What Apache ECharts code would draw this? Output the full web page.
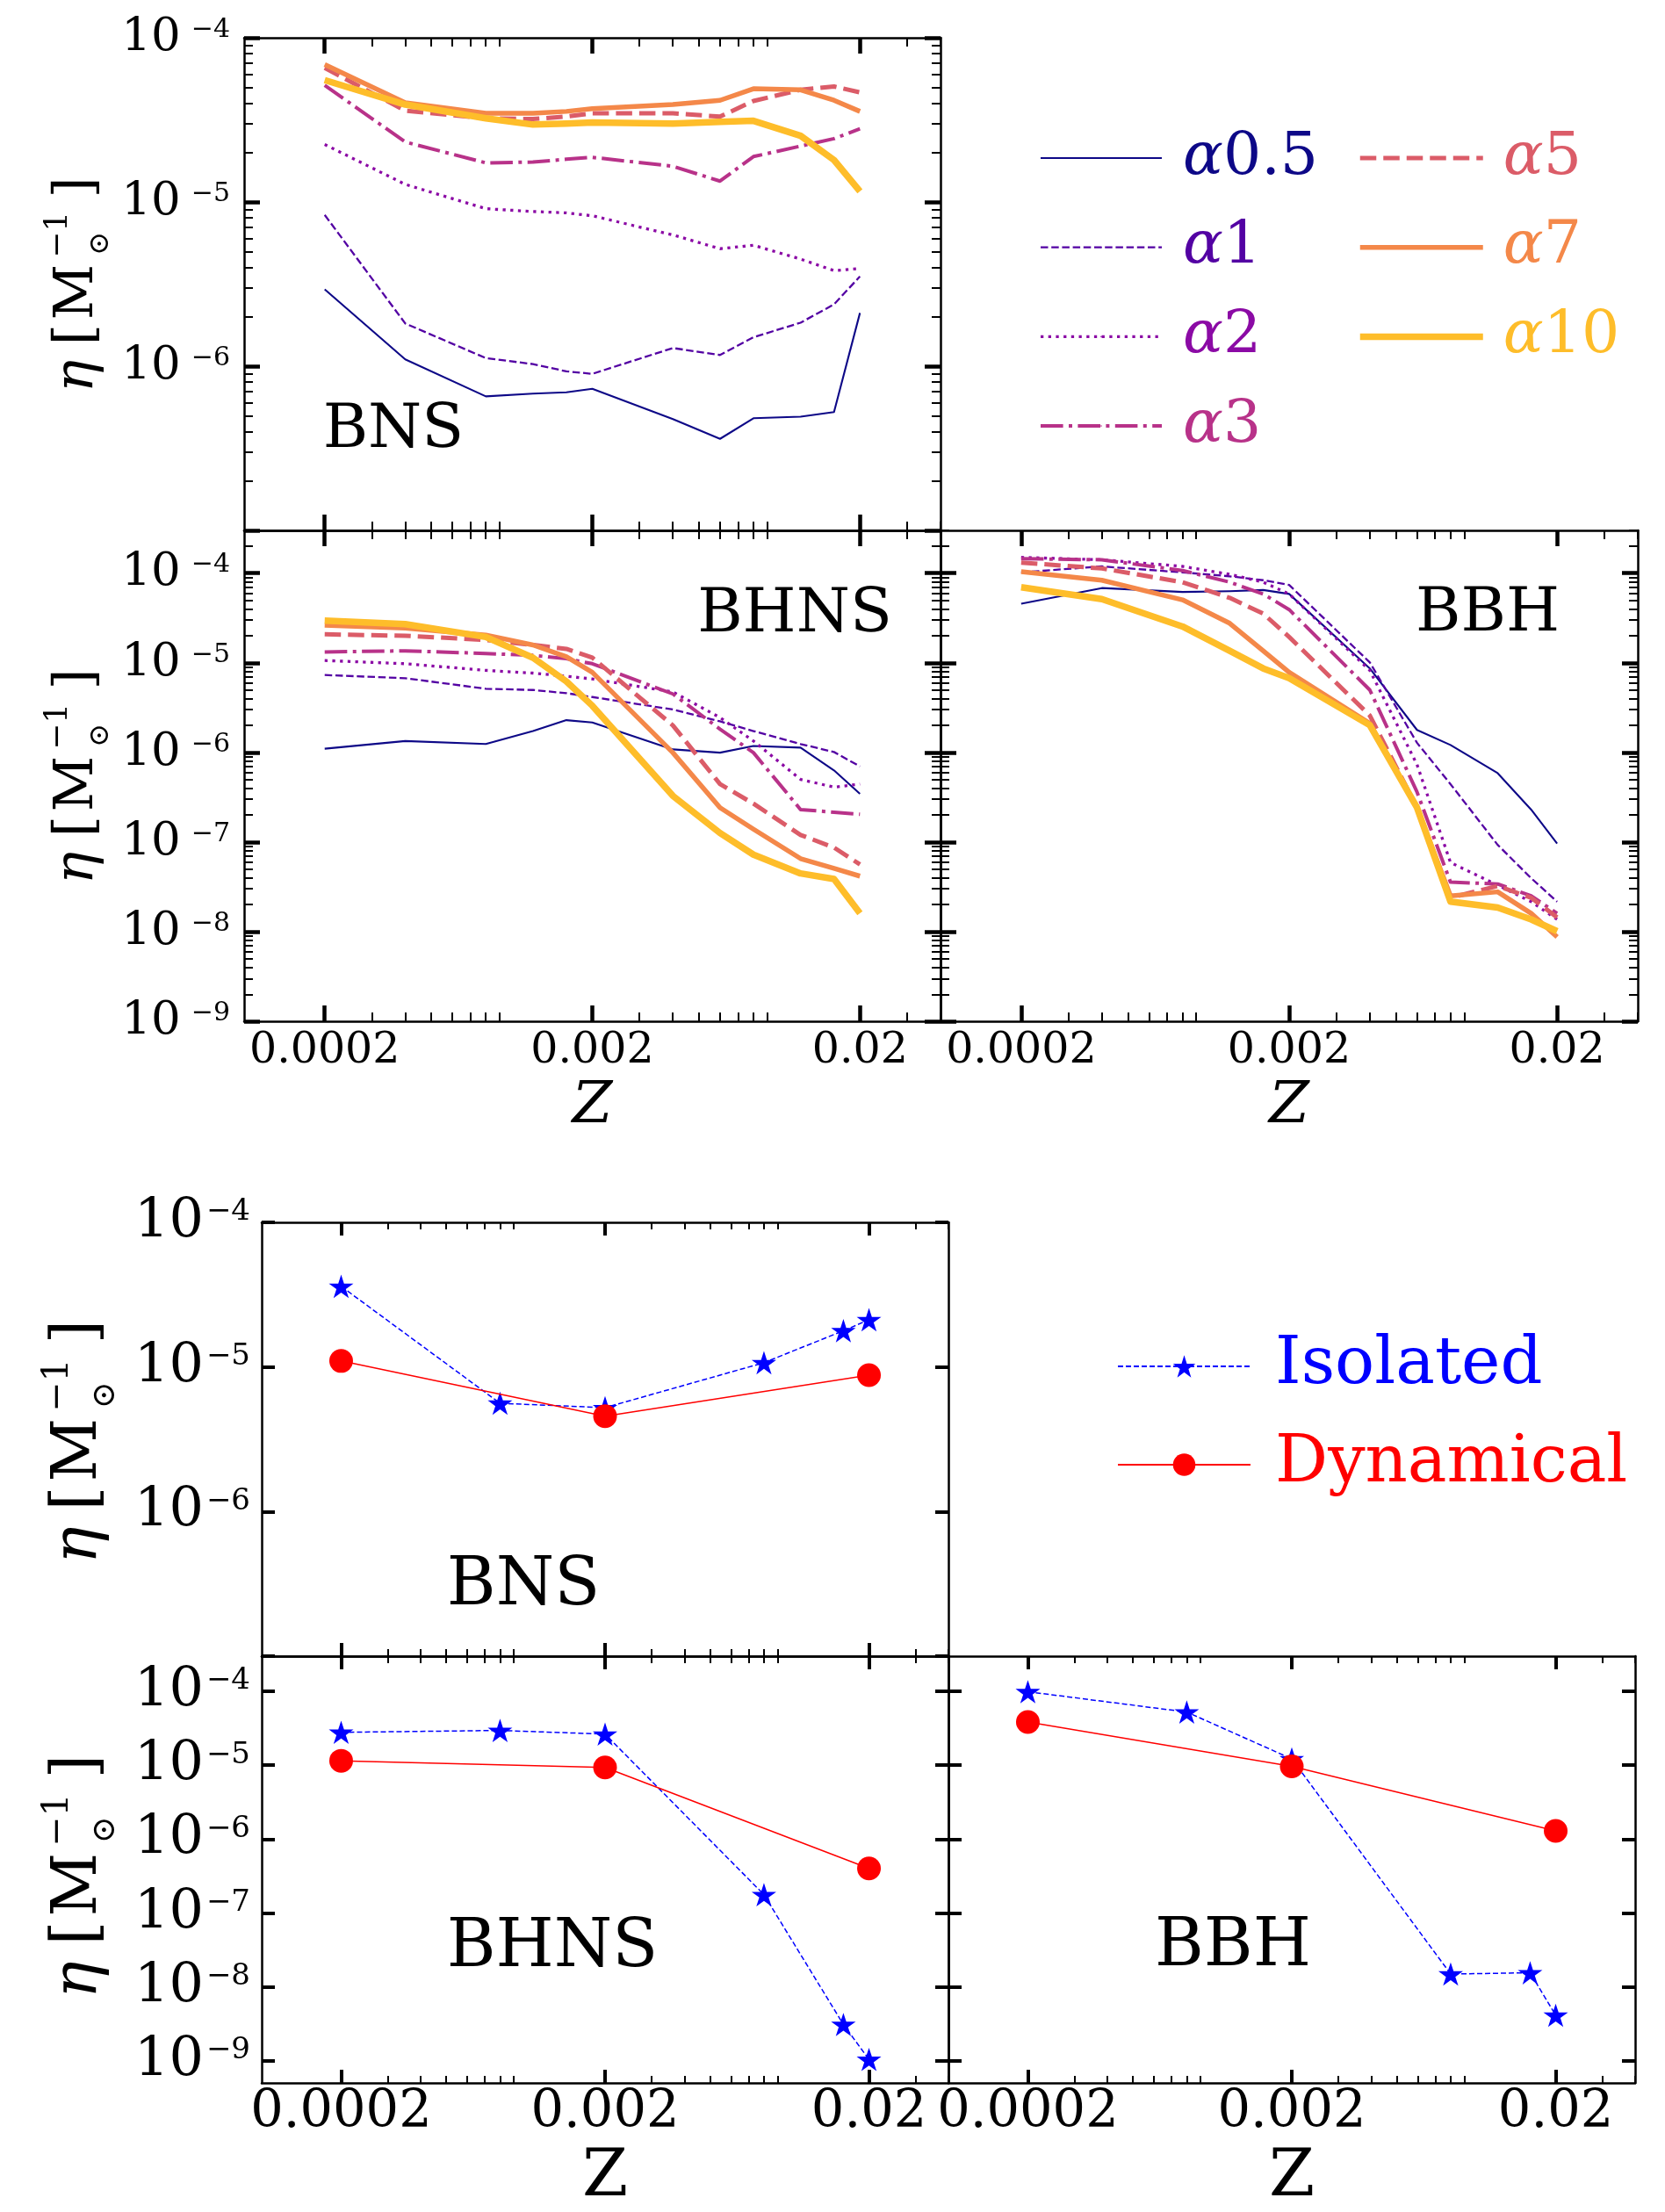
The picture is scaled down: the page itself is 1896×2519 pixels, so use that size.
<!DOCTYPE html>
<html>
<head>
<meta charset="utf-8">
<script src="https://cdn.jsdelivr.net/npm/echarts@6/dist/echarts.min.js"></script>
<style>
  html, body { margin: 0; padding: 0; background: #fff; }
  #chart { width: 1896px; height: 2519px; }
</style>
</head>
<body>
<div id="chart"></div>
<script>
// ---------- data ----------
// metallicity grid of the common-envelope runs
const Z = [0.0002, 0.0004, 0.0008, 0.0012, 0.0016, 0.002, 0.004, 0.006, 0.008, 0.012, 0.016, 0.02];
const alphaNames = ['α0.5', 'α1', 'α2', 'α3', 'α5', 'α7', 'α10'];

// merger efficiency eta [Msun^-1], BNS
const bnsA05 = [2.94e-6, 1.10e-6, 6.55e-7, 6.8e-7, 6.93e-7, 7.28e-7, 4.76e-7, 3.61e-7, 4.82e-7, 4.93e-7, 5.26e-7, 2.11e-6];
const bnsA1  = [8.34e-6, 1.82e-6, 1.12e-6, 1.03e-6, 9.3e-7, 8.98e-7, 1.29e-6, 1.17e-6, 1.50e-6, 1.84e-6, 2.38e-6, 3.52e-6];
const bnsA2  = [2.24e-5, 1.28e-5, 9.1e-6, 8.75e-6, 8.58e-6, 8.24e-6, 6.3e-6, 5.19e-6, 5.45e-6, 4.49e-6, 3.82e-6, 3.93e-6];
const bnsA3  = [5.13e-5, 2.32e-5, 1.73e-5, 1.75e-5, 1.82e-5, 1.87e-5, 1.65e-5, 1.34e-5, 1.89e-5, 2.19e-5, 2.43e-5, 2.79e-5];
const bnsA5  = [6.55e-5, 3.6e-5, 3.23e-5, 3.2e-5, 3.31e-5, 3.47e-5, 3.47e-5, 3.31e-5, 4.12e-5, 4.82e-5, 5.05e-5, 4.65e-5];
const bnsA7  = [6.87e-5, 4.02e-5, 3.47e-5, 3.47e-5, 3.56e-5, 3.70e-5, 3.92e-5, 4.16e-5, 4.89e-5, 4.82e-5, 4.16e-5, 3.56e-5];
const bnsA10 = [5.52e-5, 3.92e-5, 3.23e-5, 2.96e-5, 3.0e-5, 3.05e-5, 3.0e-5, 3.08e-5, 3.12e-5, 2.53e-5, 1.80e-5, 1.16e-5];

// BHNS
const bhnsA05 = [1.10e-6, 1.34e-6, 1.24e-6, 1.73e-6, 2.29e-6, 2.16e-6, 1.08e-6, 9.93e-7, 1.18e-6, 1.13e-6, 6.3e-7, 3.45e-7];
const bhnsA1  = [7.3e-6, 6.73e-6, 5.13e-6, 4.97e-6, 4.58e-6, 4.15e-6, 3.01e-6, 2.22e-6, 1.73e-6, 1.24e-6, 1.01e-6, 6.97e-7];
const bhnsA2  = [1.06e-5, 9.76e-6, 8.23e-6, 7.67e-6, 7.08e-6, 6.6e-6, 4.73e-6, 2.45e-6, 1.34e-6, 5.0e-7, 4.09e-7, 4.43e-7];
const bhnsA3  = [1.32e-5, 1.36e-5, 1.27e-5, 1.21e-5, 1.11e-5, 9.76e-6, 4.49e-6, 1.82e-6, 9.93e-7, 2.30e-7, 2.15e-7, 2.04e-7];
const bhnsA5  = [2.08e-5, 2.0e-5, 1.80e-5, 1.58e-5, 1.43e-5, 1.14e-5, 2.0e-6, 4.43e-7, 2.68e-7, 1.2e-7, 8.67e-8, 5.62e-8];
const bhnsA7  = [2.62e-5, 2.44e-5, 2.04e-5, 1.58e-5, 1.17e-5, 7.82e-6, 9.93e-7, 2.42e-7, 1.39e-7, 6.53e-8, 5.08e-8, 4.16e-8];
const bhnsA10 = [2.96e-5, 2.70e-5, 1.94e-5, 1.14e-5, 6.2e-6, 3.32e-6, 3.27e-7, 1.26e-7, 7.23e-8, 4.46e-8, 3.87e-8, 1.6e-8];

// BBH
const bbhA05 = [4.56e-5, 6.82e-5, 6.17e-5, 6.3e-5, 6.49e-5, 5.86e-5, 8.65e-6, 1.78e-6, 1.21e-6, 5.87e-7, 2.30e-7, 9.6e-8];
const bbhA1  = [1.02e-4, 1.19e-4, 1.02e-4, 9.22e-5, 8.34e-5, 7.39e-5, 1.01e-5, 1.28e-6, 4.43e-7, 9.3e-8, 3.95e-8, 2.16e-8];
const bbhA2  = [1.50e-4, 1.41e-4, 1.19e-4, 9.7e-5, 7.93e-5, 5.86e-5, 8.23e-6, 7.33e-7, 5.91e-8, 3.3e-8, 2.16e-8, 1.37e-8];
const bbhA3  = [1.45e-4, 1.41e-4, 1.07e-4, 7.93e-5, 5.86e-5, 3.92e-5, 4.97e-6, 3.62e-7, 3.57e-8, 3.4e-8, 2.51e-8, 1.6e-8];
const bbhA5  = [1.31e-4, 1.13e-4, 7.93e-5, 5.3e-5, 3.54e-5, 1.94e-5, 2.58e-6, 2.42e-7, 2.39e-8, 3.23e-8, 2.39e-8, 1.44e-8];
const bbhA7  = [1.04e-4, 8.34e-5, 5.04e-5, 2.76e-5, 1.36e-5, 7.82e-6, 2.11e-6, 2.42e-7, 2.51e-8, 2.78e-8, 1.6e-8, 8.73e-9];
const bbhA10 = [6.96e-5, 5.14e-5, 2.54e-5, 1.36e-5, 8.65e-6, 6.73e-6, 2.01e-6, 2.42e-7, 2.16e-8, 1.86e-8, 1.37e-8, 1.01e-8];

// isolated vs dynamical channels
const zIso = [0.0002, 0.0008, 0.002, 0.008, 0.016, 0.02];
const zDyn = [0.0002, 0.002, 0.02];
const bnsIso  = [3.61e-5, 5.61e-6, 5.23e-6, 1.07e-5, 1.78e-5, 2.12e-5];
const bnsDyn  = [1.10e-5, 4.57e-6, 8.77e-6];
const bhnsIso = [2.79e-5, 2.96e-5, 2.64e-5, 1.77e-7, 3.09e-9, 1.04e-9];
const bhnsDyn = [1.15e-5, 9.35e-6, 4.0e-7];
const bbhIso  = [9.9e-5, 5.25e-5, 1.22e-5, 1.49e-8, 1.55e-8, 4.12e-9];
const bbhDyn  = [3.85e-5, 9.66e-6, 1.29e-6];

// axis ticks
const xMajor = [0.0002, 0.002, 0.02];
const xTickLabels = ['0.0002', '0.002', '0.02'];
const xMinor = [0.0003, 0.0004, 0.0005, 0.0006, 0.0007, 0.0008, 0.0009,
                0.003, 0.004, 0.005, 0.006, 0.007, 0.008, 0.009, 0.03, 0.04];
const yDecadesShort = [1e-4, 1e-5, 1e-6, 1e-7];
const yDecadesLong  = [1e-4, 1e-5, 1e-6, 1e-7, 1e-8, 1e-9];
const yLabelsShort  = [1e-4, 1e-5, 1e-6];
const yLabelsLong   = [1e-4, 1e-5, 1e-6, 1e-7, 1e-8, 1e-9];

// ---------- styling ----------
const FONT = 'DejaVu Serif';
const INK = '#000';
const COLORS = ['#0d0887', '#5302a3', '#8b0aa5', '#b83289', '#db5c68', '#f48849', '#febd2a'];
const WIDTHS = [2.1, 2.3, 3.3, 4, 5, 5.5, 7.5];
const DASHES = ['solid', [8.5, 3.7], [3.3, 5.4], [25.6, 6.4, 4, 6.4], [18.5, 8], 'solid', 'solid'];
const STAR = 'path://M0,-100L22.45,-30.9L95.1,-30.9L36.3,11.8L58.8,80.9L0,38.2L-58.8,80.9L-36.3,11.8L-95.1,-30.9L-22.45,-30.9Z';

const TOP = { majLen: 18, majW: 4.5, minLen: 10, minW: 2, xFont: 49, xMargin: 10,
  nameGap: 65, nameFont: 66, nameStyle: 'italic', yFont: 53, ySup: 30, yLH: 48, yPad: 12, yMargin: 16, yMinor: true };
const BOT = { majLen: 15, majW: 4, minLen: 8, minW: 2, xFont: 59, xMargin: 5,
  nameGap: 71, nameFont: 75, nameStyle: 'normal', yFont: 62, ySup: 34, yLH: 57, yPad: 3, yMargin: 13, yMinor: false };

const grids = [
  { left: 278,  top: 43,   width: 793, height: 561 },
  { left: 278,  top: 604,  width: 793, height: 559 },
  { left: 1071, top: 604,  width: 794, height: 559 },
  { left: 298,  top: 1392, width: 782, height: 494 },
  { left: 298,  top: 1886, width: 782, height: 495 },
  { left: 1080, top: 1886, width: 782, height: 495 }
];

const panels = [
  { s: TOP, ymin: 1e-7,  ymax: 1e-4, yMajor: yDecadesShort, yLab: yLabelsShort, xLab: false },
  { s: TOP, ymin: 1e-9,  ymax: 3e-4, yMajor: yDecadesLong,  yLab: yLabelsLong,  xLab: true },
  { s: TOP, ymin: 1e-9,  ymax: 3e-4, yMajor: yDecadesLong,  yLab: [],           xLab: true },
  { s: BOT, ymin: 1e-7,  ymax: 1e-4, yMajor: yDecadesShort, yLab: yLabelsShort, xLab: false },
  { s: BOT, ymin: 5e-10, ymax: 3e-4, yMajor: yDecadesLong,  yLab: yLabelsLong,  xLab: true },
  { s: BOT, ymin: 5e-10, ymax: 3e-4, yMajor: yDecadesLong,  yLab: [],           xLab: true }
];

// minor log ticks k*10^n (k = 2..9) inside [lo, hi]
function minorLogTicks(lo, hi) {
  const out = [];
  for (let n = Math.floor(Math.log10(lo)); n <= Math.ceil(Math.log10(hi)); n++) {
    for (let k = 2; k <= 9; k++) {
      const v = Number((k * Math.pow(10, n)).toPrecision(3));
      if (v >= lo * 0.999 && v <= hi * 1.001) out.push(v);
    }
  }
  return out;
}

function nearest(list, v) {
  let best = 0;
  list.forEach((t, i) => { if (Math.abs(Math.log(t / v)) < Math.abs(Math.log(list[best] / v))) best = i; });
  return best;
}

const xAxis = [], yAxis = [], dataAxes = [];

panels.forEach((p, gi) => {
  const s = p.s;
  const xi = xAxis.length, yi = yAxis.length;
  dataAxes.push({ x: xi, y: yi });
  const baseX = { type: 'log', logBase: 10, gridIndex: gi, min: 1e-4, max: 0.04,
    splitLine: { show: false }, minorTick: { show: false }, minorSplitLine: { show: false }, silent: true };
  ['bottom', 'top'].forEach(pos => {
    const lab = pos === 'bottom' && p.xLab;
    xAxis.push(Object.assign({}, baseX, {
      position: pos,
      axisLine: { show: true, onZero: false, lineStyle: { color: INK, width: 2.5 } },
      axisTick: { show: true, inside: true, length: s.majLen, lineStyle: { color: INK, width: s.majW }, customValues: xMajor },
      axisLabel: { show: lab, customValues: xMajor, formatter: v => xTickLabels[nearest(xMajor, v)],
        fontFamily: FONT, fontSize: s.xFont, color: INK, margin: s.xMargin },
      name: lab ? 'Z' : '', nameLocation: 'middle', nameGap: s.nameGap,
      nameTextStyle: { fontFamily: FONT, fontSize: s.nameFont, fontStyle: s.nameStyle, color: INK }
    }));
    xAxis.push(Object.assign({}, baseX, {
      position: pos,
      axisLine: { show: false, onZero: false },
      axisTick: { show: true, inside: true, length: s.minLen, lineStyle: { color: INK, width: s.minW }, customValues: xMinor },
      axisLabel: { show: false }
    }));
  });

  const baseY = { type: 'log', logBase: 10, gridIndex: gi, min: p.ymin, max: p.ymax,
    splitLine: { show: false }, minorTick: { show: false }, minorSplitLine: { show: false }, silent: true };
  const yRich = {
    b: { fontFamily: FONT, fontSize: s.yFont, lineHeight: s.yLH, color: INK },
    s: { fontFamily: FONT, fontSize: s.ySup, lineHeight: s.ySup, verticalAlign: 'top', color: INK, padding: [0, 0, 0, s.yPad] }
  };
  ['left', 'right'].forEach(pos => {
    const lab = pos === 'left' && p.yLab.length > 0;
    yAxis.push(Object.assign({}, baseY, {
      position: pos,
      axisLine: { show: true, onZero: false, lineStyle: { color: INK, width: 2.5 } },
      axisTick: { show: true, inside: true, length: s.majLen, lineStyle: { color: INK, width: s.majW }, customValues: p.yMajor },
      axisLabel: { show: lab, customValues: p.yLab, margin: s.yMargin,
        formatter: v => '{b|10}{s|−' + Math.round(-Math.log10(v)) + '}', rich: yRich }
    }));
    if (s.yMinor) {
      yAxis.push(Object.assign({}, baseY, {
        position: pos,
        axisLine: { show: false, onZero: false },
        axisTick: { show: true, inside: true, length: s.minLen, lineStyle: { color: INK, width: s.minW },
          customValues: minorLogTicks(p.ymin, p.ymax) },
        axisLabel: { show: false }
      }));
    }
  });
});

const series = [];
function alphaSeries(gi, arrays) {
  arrays.forEach((arr, k) => {
    series.push({
      type: 'line', name: alphaNames[k], xAxisIndex: dataAxes[gi].x, yAxisIndex: dataAxes[gi].y,
      data: Z.map((z, i) => [z, arr[i]]), symbol: 'none', silent: true, animation: false,
      lineStyle: { color: COLORS[k], width: WIDTHS[k], type: DASHES[k], cap: 'butt', join: 'round' },
      itemStyle: { color: COLORS[k] }, z: 3 + k
    });
  });
}
alphaSeries(0, [bnsA05, bnsA1, bnsA2, bnsA3, bnsA5, bnsA7, bnsA10]);
alphaSeries(1, [bhnsA05, bhnsA1, bhnsA2, bhnsA3, bhnsA5, bhnsA7, bhnsA10]);
alphaSeries(2, [bbhA05, bbhA1, bbhA2, bbhA3, bbhA5, bbhA7, bbhA10]);

function channelSeries(gi, iso, dyn) {
  series.push({
    type: 'line', name: 'Isolated', xAxisIndex: dataAxes[gi].x, yAxisIndex: dataAxes[gi].y,
    data: zIso.map((z, i) => [z, iso[i]]), symbol: STAR, symbolSize: 28, symbolKeepAspect: true,
    showAllSymbol: true, silent: true, animation: false,
    lineStyle: { color: '#0000ff', width: 1.5, type: [6, 3] }, itemStyle: { color: '#0000ff' }, z: 3
  });
  series.push({
    type: 'line', name: 'Dynamical', xAxisIndex: dataAxes[gi].x, yAxisIndex: dataAxes[gi].y,
    data: zDyn.map((z, i) => [z, dyn[i]]), symbol: 'circle', symbolSize: 27,
    showAllSymbol: true, silent: true, animation: false,
    lineStyle: { color: '#ff0000', width: 1.5 }, itemStyle: { color: '#ff0000' }, z: 4
  });
}
channelSeries(3, bnsIso, bnsDyn);
channelSeries(4, bhnsIso, bhnsDyn);
channelSeries(5, bbhIso, bbhDyn);

// ---------- text ----------
function textEl(str, x, y, size, opts) {
  opts = opts || {};
  return {
    type: 'text', x: x, y: y, silent: true,
    style: {
      text: str, font: (opts.italic ? 'italic ' : '') + size + 'px "DejaVu Serif"', fill: INK,
      textAlign: opts.align || 'left', textVerticalAlign: 'middle', align: opts.align || 'left', verticalAlign: 'middle'
    }
  };
}

// rotated eta [Msun^-1] axis title; (xBase, yStart) is the baseline start of the text
function etaTitle(xBase, yStart, fs, k) {
  const mid = -0.346 * fs;
  return {
    type: 'group', x: xBase, y: yStart, rotation: Math.PI / 2, silent: true,
    children: [
      textEl('η', 0, mid, fs, { italic: true }),
      textEl('[', 52 * k, mid, fs),
      textEl('M', 80 * k, mid, fs),
      textEl('⊙', 151 * k, 5 * k, Math.round(fs * 0.52)),
      textEl('−1', 148 * k, -42 * k, Math.round(fs * 0.58)),
      textEl(']', 214 * k, mid, fs)
    ]
  };
}

const graphic = [
  etaTitle(110, 447, 62, 1.035),
  etaTitle(110, 1007, 62, 1.035),
  etaTitle(115, 1781, 71, 1.17),
  etaTitle(115, 2276, 71, 1.17),
  textEl('BNS', 448, 491, 70, { align: 'center' }),
  textEl('BHNS', 905, 701, 70, { align: 'center' }),
  textEl('BBH', 1694, 700, 70, { align: 'center' }),
  textEl('BNS', 596, 1807, 76, { align: 'center' }),
  textEl('BHNS', 629, 2219, 76, { align: 'center' }),
  textEl('BBH', 1404, 2218, 76, { align: 'center' })
];

const LEG_FS = 68, LEG_LH = 76;
const alphaRich = {
  a: { fontFamily: FONT, fontSize: LEG_FS, lineHeight: LEG_LH, fontStyle: 'italic' },
  n: { fontFamily: FONT, fontSize: LEG_FS, lineHeight: LEG_LH }
};
const alphaFmt = name => '{a|α}{n|' + name.slice(1) + '}';
const alphaLegendItem = i => ({
  name: alphaNames[i],
  textStyle: { color: COLORS[i] },
  lineStyle: { color: COLORS[i], width: WIDTHS[i], type: DASHES[i], cap: 'butt' }
});

const legend = [
  { orient: 'vertical', left: 1178, top: 137, itemWidth: 138, itemHeight: 2, itemGap: 25.7, selectedMode: false,
    data: [0, 1, 2, 3].map(alphaLegendItem),
    formatter: alphaFmt, textStyle: { fontFamily: FONT, fontSize: LEG_FS, lineHeight: LEG_LH, padding: [0, 0, 0, 19], rich: alphaRich } },
  { orient: 'vertical', left: 1540, top: 137, itemWidth: 140, itemHeight: 2, itemGap: 25.7, selectedMode: false,
    data: [4, 5, 6].map(alphaLegendItem),
    formatter: alphaFmt, textStyle: { fontFamily: FONT, fontSize: LEG_FS, lineHeight: LEG_LH, padding: [0, 0, 0, 18], rich: alphaRich } },
  { orient: 'vertical', left: 1267, top: 1511, itemWidth: 151, itemHeight: 32, itemGap: 32, selectedMode: false,
    data: [{ name: 'Isolated', textStyle: { color: '#0000ff' } }, { name: 'Dynamical', textStyle: { color: '#ff0000' } }],
    textStyle: { fontFamily: FONT, fontSize: 75, lineHeight: 80, padding: [0, 0, 0, 23] } }
];

const chart = echarts.init(document.getElementById('chart'), null, { renderer: 'canvas', width: 1896, height: 2519 });
chart.setOption({
  animation: false,
  backgroundColor: '#ffffff',
  grid: grids.map(g => Object.assign({ show: false, containLabel: false }, g)),
  xAxis: xAxis,
  yAxis: yAxis,
  legend: legend,
  series: series,
  graphic: graphic
});
</script>
</body>
</html>
